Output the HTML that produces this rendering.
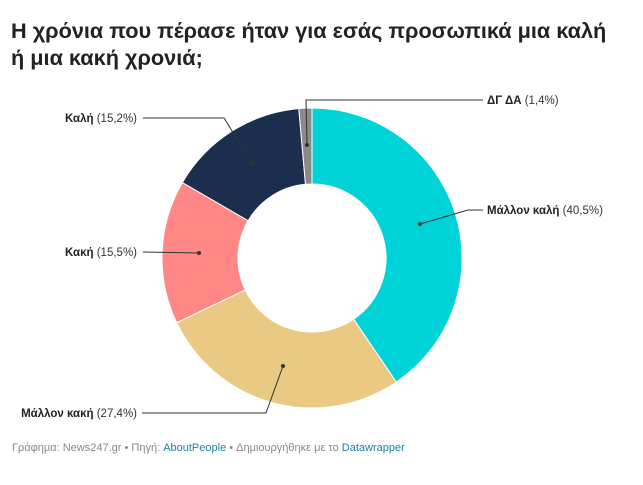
<!DOCTYPE html>
<html><head><meta charset="utf-8"><style>
body{margin:0;width:643px;height:485px;background:#fff;font-family:"Liberation Sans","DejaVu Sans",sans-serif;overflow:hidden;position:relative}
h1{position:absolute;left:11px;top:17px;margin:0;font-size:21.7px;line-height:27px;font-weight:bold;color:#222;width:630px;white-space:nowrap}
.foot{position:absolute;left:12px;top:442px;font-size:11px;color:#888}
.foot span{color:#1d81a2}
svg text{font-size:11.5px;fill:#333}
</style></head><body>
<h1>Η χρόνια που πέρασε ήταν για εσάς προσωπικά μια καλή<br>ή μια κακή χρονιά;</h1>
<svg width="643" height="485" style="position:absolute;left:0;top:0">
<g stroke="#fff" stroke-width="1">
<path d="M312 108 A150 150 0 0 1 396.3 382.1 L353.6 319.2 A74 74 0 0 0 312 184 Z" fill="#00d3d8"/>
<path d="M396.3 382.1 A150 150 0 0 1 176.7 322.7 L245.2 289.9 A74 74 0 0 0 353.6 319.2 Z" fill="#eaca82"/>
<path d="M176.7 322.7 A150 150 0 0 1 182.4 182.5 L248.1 220.7 A74 74 0 0 0 245.2 289.9 Z" fill="#ff8785"/>
<path d="M182.4 182.5 A150 150 0 0 1 298.8 108.6 L305.5 184.3 A74 74 0 0 0 248.1 220.7 Z" fill="#1b2e4e"/>
<path d="M298.8 108.6 A150 150 0 0 1 312 108 L312 184 A74 74 0 0 0 305.5 184.3 Z" fill="#8a8a8a"/>
</g>
<g stroke="#333" stroke-width="1" fill="none">
<polyline points="420,224 468,210 483,210"/>
<polyline points="283,366 266,413 142,413"/>
<polyline points="199,253 143,252"/>
<polyline points="252,163 224,118 143,118"/>
<polyline points="307,145 306,100 483,100"/>
</g>
<g fill="#333">
<circle cx="420" cy="224" r="2"/><circle cx="283" cy="366" r="2"/><circle cx="199" cy="253" r="2"/><circle cx="252" cy="163" r="2"/><circle cx="307" cy="145" r="2"/>
</g>
<text x="487" y="214"><tspan font-weight="bold" fill="#222">Μάλλον καλή</tspan> (40,5%)</text>
<text x="487" y="104"><tspan font-weight="bold" fill="#222">ΔΓ ΔΑ</tspan> (1,4%)</text>
<text x="137" y="417" text-anchor="end"><tspan font-weight="bold" fill="#222">Μάλλον κακή</tspan> (27,4%)</text>
<text x="137" y="256" text-anchor="end"><tspan font-weight="bold" fill="#222">Κακή</tspan> (15,5%)</text>
<text x="137" y="122" text-anchor="end"><tspan font-weight="bold" fill="#222">Καλή</tspan> (15,2%)</text>
</svg>
<div class="foot">Γράφημα: News247.gr • Πηγή: <span>AboutPeople</span> • Δημιουργήθηκε με το <span>Datawrapper</span></div>
</body></html>
